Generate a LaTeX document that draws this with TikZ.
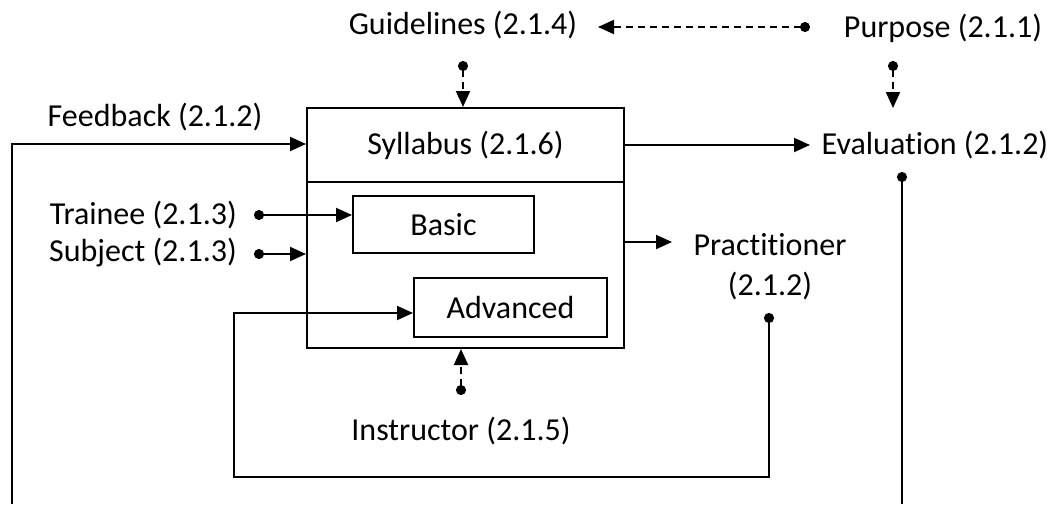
\documentclass[tikz,border=0pt]{standalone}
\usepackage{fontspec}
\setmainfont[Ligatures=NoCommon]{Carlito}
\usetikzlibrary{arrows.meta}
\begin{document}
\begin{tikzpicture}[x=1pt,y=-1pt,
  every node/.style={font=\fontsize{32}{40}\selectfont, inner sep=0pt},
  ln/.style={line width=2pt},
  boxs/.style={draw, line width=2pt, rectangle},
  solidarr/.style={ln, -{Triangle[length=16pt 0 0,width=14pt 0 0]}},
  dotarr/.style={ln, {Circle[length=10pt 0 0]}-{Triangle[length=16pt 0 0,width=14pt 0 0]}},
  dotline/.style={ln, {Circle[length=10pt 0 0]}-},
  dasharr/.style={dotarr, dash pattern=on 7pt off 5pt}]
\useasboundingbox (0,0) rectangle (1054,504);
% main box and inner boxes
\node[boxs, minimum width=317pt, minimum height=240pt] (main) at (465.5,228) {};
\node (syl) at (465.5,145) {Syllabus (2.1.6)};
\coordinate (divl) at (307,182);
\coordinate (divr) at (624,182);
\draw[ln] (divl) -- (divr);
\node[boxs, minimum width=181pt, minimum height=57pt] (basic) at (443.5,224.5) {Basic};
\node[boxs, minimum width=193pt, minimum height=59pt] (adv) at (510.5,307.5) {Advanced};
% labels
\node (guid) at (463,25) {Guidelines (2.1.4)};
\node (purp) at (943,28) {Purpose (2.1.1)};
\node (eval) at (935,145) {Evaluation (2.1.2)};
\node (feed) at (155,117) {Feedback (2.1.2)};
\node[anchor=east] (train) at (237,215) {Trainee (2.1.3)};
\node[anchor=east] (subj) at (237,253) {Subject (2.1.3)};
\node[align=center] (pract) at (770,267) {Practitioner\\(2.1.2)};
\node (instr) at (461,431) {Instructor (2.1.5)};
% coordinates for connector ends
\coordinate (gdot) at (463,61);
\coordinate (pdot) at (810,27);
\coordinate (gtip) at (598,27);
\coordinate (pudot) at (893,61);
\coordinate (etip) at (893,108);
\coordinate (eout) at (624,145);
\coordinate (ein) at (810,145);
\coordinate (tdot) at (254,215);
\coordinate (sdot) at (254,254);
\coordinate (prout) at (624,242);
\coordinate (prin) at (672,242);
\coordinate (prdot) at (769,313);
\coordinate (loopr) at (769,477);
\coordinate (loopl) at (234,477);
\coordinate (loopt) at (234,313);
\coordinate (idot) at (461,395);
\coordinate (evdot) at (902,172);
\coordinate (evend) at (902,504);
\coordinate (fbend) at (12,504);
\coordinate (fbcorner) at (12,144);
% connectors
\draw[dasharr] (gdot) -- (gdot |- main.north);
\draw[dasharr] (pdot) -- (gtip);
\draw[dasharr] (pudot) -- (etip);
\draw[solidarr] (eout) -- (ein);
\draw[solidarr] (fbend) -- (fbcorner) -- (fbcorner -| main.west);
\draw[dotarr] (tdot) -- (tdot -| basic.west);
\draw[dotarr] (sdot) -- (sdot -| main.west);
\draw[solidarr] (prout) -- (prin);
\draw[dotarr] (prdot) -- (loopr) -- (loopl) -- (loopt) -- (loopt -| adv.west);
\draw[dasharr] (idot) -- (idot |- main.south);
\draw[dotline] (evdot) -- (evend);
\end{tikzpicture}
\end{document}
